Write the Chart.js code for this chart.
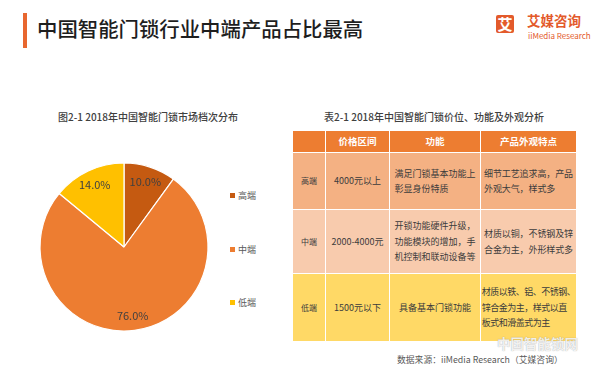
<!DOCTYPE html>
<html lang="zh">
<head>
<meta charset="UTF-8" />
<title>中国智能门锁行业中端产品占比最高</title>
<script src="https://cdn.jsdelivr.net/npm/chart.js@4.4.0/dist/chart.umd.min.js"></script>
<style>
  html, body { margin: 0; padding: 0; background: #fff; }
  body { width: 600px; height: 372px; position: relative; overflow: hidden;
         font-family: "Noto Sans CJK SC", "Noto Sans", sans-serif; color: #404040; }
  .abs { position: absolute; }
  #bar { left: 23px; top: 13px; width: 4px; height: 35px; background: #E8672F; }
  #title { left: 37px; top: 16px; font-size: 20.4px; line-height: 24px; color: #1e1e1e; font-weight: 500; white-space: nowrap; }
  #logoBox { left: 496px; top: 15px; width: 18px; height: 18px; background: #E35A2B; border-radius: 2px;
             color: #fff; font-size: 15px; line-height: 18px; text-align: center; font-weight: 700; }
  #logoCn { left: 527px; top: 13px; font-size: 13.5px; line-height: 14px; color: #E35A2B; font-weight: 700; white-space: nowrap; }
  #logoEn { left: 528px; top: 31.5px; font-size: 8px; line-height: 8px; color: #E35A2B; white-space: nowrap; }
  #pieTitle { left: 0; width: 296px; top: 111px; text-align: center; font-size: 10px; line-height: 12px; color: #404040; font-weight: 500; white-space: nowrap; }
  #pieBox { left: 24px; top: 147px; width: 200px; height: 200px; }
  #legend .item { position: absolute; left: 230px; font-size: 9px; line-height: 10px; color: #595959; white-space: nowrap; }
  #legend .sw { display: inline-block; width: 5px; height: 5px; margin-right: 3px; vertical-align: 1px; }
  #tblTitle { left: 292px; width: 284px; top: 111px; text-align: center; font-size: 10px; line-height: 12px; color: #404040; font-weight: 500; white-space: nowrap; }
  #tbl { left: 292px; top: 130px; border-collapse: collapse; table-layout: fixed; }
  #tbl td { border: 1px solid #fff; padding: 0; text-align: center; vertical-align: middle;
            font-size: 9px; line-height: 15.5px; color: #3c3c3c; white-space: nowrap; overflow: visible; }
  #tbl tr.head td { background: #ED7D31; color: #fff; font-weight: 700; font-size: 9.5px; }
  #tbl td .blk { display: inline-block; text-align: left; }
  #tbl td.tier { font-size: 8px; }
  #src { left: 397px; top: 354px; font-size: 8.8px; line-height: 12px; color: #595959; white-space: nowrap; }
  #wm { left: 497px; top: 337px; font-size: 13.5px; line-height: 12px; color: rgba(255,255,255,0.85);
        text-shadow: 0 0 1px rgba(90,90,90,0.6); font-weight: 700; white-space: nowrap; }
</style>
</head>
<body>

<div id="bar" class="abs"></div>
<div id="title" class="abs">中国智能门锁行业中端产品占比最高</div>
<div id="logoBox" class="abs">艾</div>
<div id="logoCn" class="abs">艾媒咨询</div>
<div id="logoEn" class="abs">iiMedia Research</div>

<div id="pieTitle" class="abs">图2-1 2018年中国智能门锁市场档次分布</div>
<div id="pieBox" class="abs"><canvas id="pie"></canvas></div>
<div id="legend"></div>

<div id="tblTitle" class="abs">表2-1 2018年中国智能门锁价位、功能及外观分析</div>
<table id="tbl" class="abs"></table>

<div id="src" class="abs">数据来源：iiMedia Research（艾媒咨询）</div>
<div id="wm" class="abs">中国智能锁网</div>

<script>
// ---- data -----------------------------------------------------------------
const tiers    = ['高端', '中端', '低端'];
const shares   = [10.0, 76.0, 14.0];
const colors   = ['#C55A11', '#ED7D31', '#FFC000'];

const headers  = ['', '价格区间', '功能', '产品外观特点'];
const prices   = ['4000元以上', '2000-4000元', '1500元以下'];
const features = [
  ['满足门锁基本功能上', '彰显身份特质'],
  ['开锁功能硬件升级，', '功能模块的增加，手', '机控制和联动设备等'],
  ['具备基本门锁功能']
];
const looks = [
  ['细节工艺追求高，产品', '外观大气，样式多'],
  ['材质以铜，不锈钢及锌', '合金为主，外形样式多'],
  ['材质以铁、铝、不锈钢、', '锌合金为主，样式以直', '板式和滑盖式为主']
];
const rowFills = ['#F4B183', '#F8CBAD', '#FFD966'];

// ---- legend ---------------------------------------------------------------
const legend = document.getElementById('legend');
const legendY = [191, 245, 298];
tiers.forEach((t, i) => {
  const el = document.createElement('div');
  el.className = 'item';
  el.style.top = legendY[i] + 'px';
  el.innerHTML = '<span class="sw" style="background:' + colors[i] + '"></span>' + t;
  legend.append(el);
});

// ---- table ----------------------------------------------------------------
const colW = [33, 64, 91, 96];
const rowH = [22, 57, 64, 68];
const tbl = document.getElementById('tbl');
const cg = document.createElement('colgroup');
colW.forEach(w => { const c = document.createElement('col'); c.style.width = w + 'px'; cg.append(c); });
tbl.append(cg);

const head = document.createElement('tr');
head.className = 'head';
head.style.height = rowH[0] + 'px';
headers.forEach(h => { const td = document.createElement('td'); td.textContent = h; head.append(td); });
tbl.append(head);

const block = lines => '<span class="blk">' + lines.join('<br>') + '</span>';
tiers.forEach((t, i) => {
  const tr = document.createElement('tr');
  tr.style.height = rowH[i + 1] + 'px';
  tr.style.background = rowFills[i];
  tr.innerHTML =
    '<td class="tier">' + t + '</td>' +
    '<td>' + prices[i] + '</td>' +
    '<td>' + block(features[i]) + '</td>' +
    '<td style="letter-spacing:' + (i === 2 ? '-0.5px' : '-0.1px') + '">' + block(looks[i]) + '</td>';
  tbl.append(tr);
});

// ---- pie ------------------------------------------------------------------
const pctLabels = {
  id: 'pctLabels',
  afterDatasetsDraw(chart) {
    const ctx = chart.ctx;
    const meta = chart.getDatasetMeta(0);
    ctx.save();
    ctx.font = '11px "Noto Sans CJK SC", "Noto Sans", sans-serif';
    ctx.fillStyle = '#404040';
    ctx.textAlign = 'center';
    ctx.textBaseline = 'middle';
    meta.data.forEach((arc, i) => {
      const p = arc.getProps(['x', 'y', 'startAngle', 'endAngle', 'outerRadius'], true);
      const mid = (p.startAngle + p.endAngle) / 2;
      const r = p.outerRadius * 0.82;
      ctx.fillText(shares[i].toFixed(1) + '%', p.x + Math.cos(mid) * r, p.y + Math.sin(mid) * r);
    });
    ctx.restore();
  }
};

new Chart(document.getElementById('pie'), {
  type: 'pie',
  data: {
    labels: tiers,
    datasets: [{ data: shares, backgroundColor: colors, borderColor: '#fff', borderWidth: 1.2 }]
  },
  options: {
    responsive: true,
    maintainAspectRatio: false,
    animation: false,
    radius: 84,
    layout: { padding: 0 },
    plugins: { legend: { display: false }, tooltip: { enabled: false } }
  },
  plugins: [pctLabels]
});
</script>
</body>
</html>
